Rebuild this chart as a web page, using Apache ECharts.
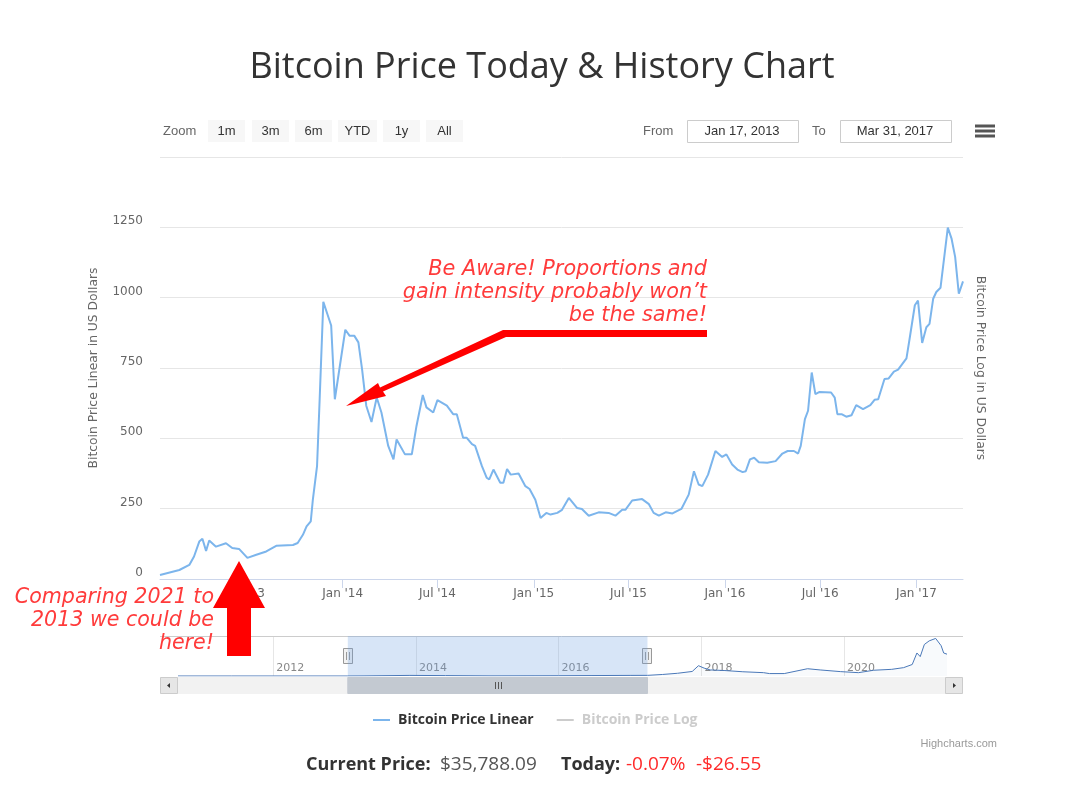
<!DOCTYPE html>
<html>
<head>
<meta charset="utf-8">
<title>Bitcoin Price Today & History Chart</title>
<script src="https://cdn.jsdelivr.net/npm/echarts@6/dist/echarts.min.js"></script>
<style>
  html, body { margin: 0; padding: 0; background: #fff; }
  #chart { width: 1079px; height: 790px; }
</style>
</head>
<body>
<div id="chart"></div>
<script>
// weekly-ish closes (USD)
var priceDates = [
  '2013-01-17','2013-02-23','2013-03-14','2013-03-23','2013-04-02','2013-04-08','2013-04-15','2013-04-21',
  '2013-05-04','2013-05-23','2013-06-04','2013-06-17','2013-07-03','2013-07-20','2013-08-08','2013-08-27',
  '2013-09-28','2013-10-07','2013-10-17','2013-10-24','2013-11-01','2013-11-05','2013-11-13','2013-11-18',
  '2013-11-25','2013-12-03','2013-12-10','2013-12-17','2014-01-06','2014-01-14','2014-01-23','2014-01-31',
  '2014-02-07','2014-02-15','2014-02-25','2014-03-07','2014-03-16','2014-03-29','2014-04-08','2014-04-14',
  '2014-04-30','2014-05-13','2014-05-22','2014-06-03','2014-06-10','2014-06-23','2014-07-01','2014-07-19',
  '2014-07-31','2014-08-07','2014-08-19','2014-08-26','2014-09-05','2014-09-11','2014-09-24','2014-10-03',
  '2014-10-08','2014-10-16','2014-10-29','2014-11-04','2014-11-11','2014-11-18','2014-12-03','2014-12-16',
  '2014-12-24','2015-01-04','2015-01-14','2015-01-25','2015-02-02','2015-02-15','2015-02-24','2015-03-09',
  '2015-03-25','2015-04-03','2015-04-16','2015-05-05','2015-05-24','2015-06-06','2015-06-19','2015-06-25',
  '2015-07-08','2015-07-27','2015-08-09','2015-08-18','2015-08-28','2015-09-10','2015-09-23','2015-10-10',
  '2015-10-24','2015-11-03','2015-11-12','2015-11-19','2015-11-30','2015-12-14','2015-12-27','2016-01-04',
  '2016-01-15','2016-01-25','2016-02-04','2016-02-10','2016-02-18','2016-02-26','2016-03-06','2016-03-22',
  '2016-04-07','2016-04-20','2016-04-30','2016-05-12','2016-05-20','2016-05-25','2016-06-02','2016-06-08',
  '2016-06-15','2016-06-22','2016-06-30','2016-07-22','2016-07-29','2016-08-03','2016-08-11','2016-08-20',
  '2016-08-30','2016-09-08','2016-09-21','2016-10-05','2016-10-13','2016-10-20','2016-11-01','2016-11-09',
  '2016-11-19','2016-11-27','2016-12-13','2016-12-19','2016-12-29','2017-01-04','2017-01-12','2017-01-20',
  '2017-01-26','2017-02-02','2017-02-08','2017-02-16','2017-03-02','2017-03-09','2017-03-16','2017-03-23',
  '2017-03-31'
];
var priceValues = [
  14, 32, 50, 80, 133, 143, 100, 137,
  115, 127, 110, 107, 75, 86, 98, 118,
  121, 128, 157, 187, 205, 282, 401, 639,
  985, 940, 901, 639, 886, 865, 865, 841,
  746, 616, 558, 645, 592, 473, 425, 496,
  443, 443, 544, 654, 610, 592, 636, 616,
  586, 586, 502, 502, 479, 473, 401, 360,
  354, 389, 342, 342, 391, 371, 375, 330,
  320, 282, 217, 235, 229, 235, 246, 288,
  252, 249, 225, 237, 235, 225, 246, 246,
  279, 284, 266, 235, 225, 237, 233, 249,
  300, 383, 336, 330, 371, 455, 434, 443,
  407, 389, 380, 383, 425, 431, 415, 413,
  419, 446, 455, 455, 446, 473, 568, 598,
  734, 657, 665, 663, 645, 586, 586, 577,
  582, 618, 604, 618, 637, 639, 711, 713,
  737, 744, 784, 854, 973, 990, 839, 895,
  907, 996, 1020, 1035, 1249, 1211, 1145, 1014,
  1058
];

// long history shown in the navigator (USD)
var navDates = [
  '2010-09-01','2011-06-01','2012-01-01','2013-01-17','2013-04-10','2013-12-01','2014-06-01','2015-01-15',
  '2016-01-01','2016-06-15','2017-01-01','2017-03-31','2017-06-15','2017-09-01','2017-11-15','2017-12-17',
  '2018-01-15','2018-02-15','2018-05-01','2018-08-01','2018-11-15','2018-12-15','2019-03-01','2019-06-28',
  '2019-09-01','2019-12-15','2020-03-15','2020-06-01','2020-09-01','2020-11-01','2020-12-15','2021-01-08',
  '2021-01-25','2021-02-15','2021-03-12','2021-04-14','2021-05-12','2021-05-25','2021-06-11'
];
var navValues = [
  0.06, 10, 6, 15, 140, 1000, 650, 200,
  430, 700, 1000, 1060, 2500, 4500, 7500, 17000,
  13000, 10000, 9000, 7000, 5500, 4000, 4000, 12000,
  10000, 7200, 5500, 9500, 11000, 13800, 19000, 38000,
  32000, 52000, 58000, 62000, 50000, 38000, 36000
];

var mainTickDates = ['2013-07-01','2014-01-01','2014-07-01','2015-01-01','2015-07-01','2016-01-01','2016-07-01','2017-01-01'];
var navTickDates = ['2012-01-01','2014-01-01','2016-01-01','2018-01-01','2020-01-01'];
var rangeFrom = '2013-01-17';
var rangeTo = '2017-03-31';
var zoomButtons = ['1m', '3m', '6m', 'YTD', '1y', 'All'];

var months = ['Jan','Feb','Mar','Apr','May','Jun','Jul','Aug','Sep','Oct','Nov','Dec'];
function toTime(s) { return new Date(s + 'T00:00:00').getTime(); }
function pair(ds, vs) { return ds.map(function (d, i) { return [toTime(d), vs[i]]; }); }

var chart = echarts.init(document.getElementById('chart'));
var labelFont = 'DejaVu Sans';
var btnFont = '13px "Liberation Sans Narrow", "Liberation Sans"';
var red = '#ff3b3b';

chart.setOption({
  backgroundColor: '#fff',
  animation: false,
  title: {
    text: 'Bitcoin Price Today & History Chart',
    left: 537, top: 45, textAlign: 'center',
    textStyle: { fontFamily: 'Open Sans', fontWeight: 'normal', fontSize: 36, color: '#333' }
  },
  legend: {
    left: 368, top: 708, itemGap: 23,
    icon: 'rect', itemWidth: 17, itemHeight: 2,
    inactiveColor: '#cccccc',
    textStyle: { fontFamily: 'Open Sans', fontWeight: 'bold', fontSize: 14, color: '#333', padding: [0, 0, 0, 3] },
    data: ['Bitcoin Price Linear', 'Bitcoin Price Log'],
    selected: { 'Bitcoin Price Linear': true, 'Bitcoin Price Log': false }
  },
  grid: [
    { left: 160, right: 116, top: 157, height: 422 },
    { left: 178, right: 132, top: 636, height: 40 }
  ],
  xAxis: [{
    type: 'value', gridIndex: 0,
    min: toTime(rangeFrom), max: toTime(rangeTo),
    axisLine: { lineStyle: { color: '#ccd6eb' } },
    axisTick: { show: true, length: 9, lineStyle: { color: '#ccd6eb' }, customValues: mainTickDates.map(toTime) },
    axisLabel: {
      customValues: mainTickDates.map(toTime),
      margin: 9, color: '#666', fontFamily: labelFont, fontSize: 12,
      formatter: function (v) {
        var d = new Date(v);
        return months[d.getMonth()] + " '" + String(d.getFullYear()).slice(2);
      }
    },
    splitLine: { show: false }
  }, {
    type: 'value', gridIndex: 1,
    min: toTime(navDates[0]), max: toTime(navDates[navDates.length - 1]),
    axisLine: { show: false },
    axisTick: { show: false, customValues: navTickDates.map(toTime) },
    axisLabel: {
      customValues: navTickDates.map(toTime),
      inside: true, margin: 2, align: 'left', verticalAlign: 'bottom',
      padding: [0, 0, 0, 3], color: '#888', fontFamily: labelFont, fontSize: 11,
      formatter: function (v) { return String(new Date(v).getFullYear()); }
    },
    splitLine: { show: true, lineStyle: { color: '#e6e6e6' } }
  }],
  yAxis: [{
    type: 'value', gridIndex: 0,
    min: 0, max: 1500, interval: 250,
    name: 'Bitcoin Price Linear in US Dollars',
    nameLocation: 'middle', nameGap: 60,
    nameTextStyle: { color: '#666', fontFamily: labelFont, fontSize: 12.3 },
    axisLine: { show: false }, axisTick: { show: false },
    axisLabel: {
      margin: 17, color: '#666', fontFamily: labelFont, fontSize: 12, verticalAlign: 'bottom',
      formatter: function (v) { return v === 1500 ? '' : String(v); }
    },
    splitLine: { lineStyle: { color: '#e6e6e6' } }
  }, {
    type: 'log', gridIndex: 0, position: 'right',
    min: 1, max: 10000,
    name: 'Bitcoin Price Log in US Dollars',
    nameLocation: 'middle', nameGap: 11, nameRotate: -90,
    nameTextStyle: { color: '#666', fontFamily: labelFont, fontSize: 12.3 },
    axisLine: { show: false }, axisTick: { show: false },
    axisLabel: { show: false }, splitLine: { show: false }
  }, {
    type: 'value', gridIndex: 1, min: 0, max: 66000,
    show: false, splitLine: { show: false }
  }],
  series: [{
    name: 'Bitcoin Price Linear', type: 'line',
    xAxisIndex: 0, yAxisIndex: 0,
    data: pair(priceDates, priceValues),
    symbol: 'none', color: '#7cb5ec',
    lineStyle: { width: 2, color: '#7cb5ec' }
  }, {
    name: 'Bitcoin Price Log', type: 'line',
    xAxisIndex: 0, yAxisIndex: 1,
    data: pair(priceDates, priceValues),
    symbol: 'none', color: '#434348',
    lineStyle: { width: 2 }
  }, {
    name: 'navigator', type: 'line',
    xAxisIndex: 1, yAxisIndex: 2,
    data: pair(navDates, navValues),
    symbol: 'none',
    lineStyle: { width: 1, color: '#4a78b8' },
    areaStyle: { color: 'rgba(69,114,167,0.05)' },
    markArea: {
      silent: true,
      itemStyle: { color: 'rgba(110,160,225,0.28)' },
      data: [[{ xAxis: toTime(rangeFrom) }, { xAxis: toTime(rangeTo) }]]
    }
  }]
});

// pixel spots of the selected range on the navigator axis
var selX0 = chart.convertToPixel({ xAxisIndex: 1 }, toTime(rangeFrom));
var selX1 = chart.convertToPixel({ xAxisIndex: 1 }, toTime(rangeTo));

var g = [];
// range selector: zoom buttons
g.push({ type: 'text', x: 163, y: 131, style: { text: 'Zoom', verticalAlign: 'middle', font: btnFont, fill: '#666' } });
var bx = [208, 252, 295, 338, 383, 426];
var bw = [37, 37, 37, 39, 37, 37];
zoomButtons.forEach(function (t, i) {
  g.push({ type: 'rect', shape: { x: bx[i], y: 120, width: bw[i], height: 22 }, style: { fill: '#f7f7f7' } });
  g.push({ type: 'text', x: bx[i] + bw[i] / 2, y: 131, style: { text: t, align: 'center', verticalAlign: 'middle', font: btnFont, fill: '#333' } });
});
g.push({ type: 'text', x: 643, y: 131, style: { text: 'From', verticalAlign: 'middle', font: btnFont, fill: '#666' } });
g.push({ type: 'rect', shape: { x: 687.5, y: 120.5, width: 111, height: 22 }, style: { fill: '#fff', stroke: '#cccccc', lineWidth: 1 } });
g.push({ type: 'text', x: 742, y: 131, style: { text: 'Jan 17, 2013', align: 'center', verticalAlign: 'middle', font: btnFont, fill: '#333' } });
g.push({ type: 'text', x: 812, y: 131, style: { text: 'To', verticalAlign: 'middle', font: btnFont, fill: '#666' } });
g.push({ type: 'rect', shape: { x: 840.5, y: 120.5, width: 111, height: 22 }, style: { fill: '#fff', stroke: '#cccccc', lineWidth: 1 } });
g.push({ type: 'text', x: 895, y: 131, style: { text: 'Mar 31, 2017', align: 'center', verticalAlign: 'middle', font: btnFont, fill: '#333' } });
// export menu icon
[126, 131, 136].forEach(function (y) {
  g.push({ type: 'line', shape: { x1: 975, y1: y, x2: 995, y2: y }, style: { stroke: '#555', lineWidth: 3 } });
});

// navigator outline, handles and scrollbar
g.push({ type: 'line', shape: { x1: 160, y1: 636.5, x2: 963, y2: 636.5 }, style: { stroke: '#cccccc', lineWidth: 1 } });
g.push({ type: 'rect', shape: { x: 160.5, y: 677.5, width: 802, height: 16 }, style: { fill: '#f2f2f2', stroke: '#f2f2f2' } });
g.push({ type: 'rect', shape: { x: selX0, y: 677.5, width: selX1 - selX0, height: 16 }, style: { fill: '#c3c9d1', stroke: '#c3c9d1' } });
[-3, 0, 3].forEach(function (dx) {
  var cx = Math.round((selX0 + selX1) / 2) + dx + 0.5;
  g.push({ type: 'line', shape: { x1: cx, y1: 682, x2: cx, y2: 689 }, style: { stroke: '#555', lineWidth: 1 } });
});
g.push({ type: 'rect', shape: { x: 160.5, y: 677.5, width: 17, height: 16 }, style: { fill: '#e6e6e6', stroke: '#cccccc' } });
g.push({ type: 'polygon', shape: { points: [[167, 685.5], [170, 683], [170, 688]] }, style: { fill: '#333' } });
g.push({ type: 'rect', shape: { x: 945.5, y: 677.5, width: 17, height: 16 }, style: { fill: '#e6e6e6', stroke: '#cccccc' } });
g.push({ type: 'polygon', shape: { points: [[956, 685.5], [953, 683], [953, 688]] }, style: { fill: '#333' } });
[selX0, selX1].forEach(function (hx) {
  var x = Math.round(hx);
  g.push({ type: 'rect', shape: { x: x - 4.5, y: 648.5, width: 9, height: 15 }, style: { fill: '#f2f2f2', stroke: '#999' } });
  g.push({ type: 'line', shape: { x1: x - 1.5, y1: 652, x2: x - 1.5, y2: 660 }, style: { stroke: '#999', lineWidth: 1 } });
  g.push({ type: 'line', shape: { x1: x + 1.5, y1: 652, x2: x + 1.5, y2: 660 }, style: { stroke: '#999', lineWidth: 1 } });
});

// credits and price line
g.push({ type: 'text', x: 997, y: 744, style: { text: 'Highcharts.com', align: 'right', verticalAlign: 'middle', font: '11px "Liberation Sans"', fill: '#999' } });
var priceFont = '19px "Open Sans"';
var priceBold = 'bold 18px "Open Sans"';
[
  { x: 306, t: 'Current Price:', f: priceBold, c: '#333' },
  { x: 440, t: '$35,788.09', f: priceFont, c: '#555' },
  { x: 561, t: 'Today:', f: priceBold, c: '#333' },
  { x: 626, t: '-0.07%', f: priceFont, c: '#ff2a2a' },
  { x: 696, t: '-$26.55', f: priceFont, c: '#ff2a2a' }
].forEach(function (p) {
  g.push({ type: 'text', x: p.x, y: 765, style: { text: p.t, verticalAlign: 'middle', font: p.f, fill: p.c } });
});

// red annotations drawn over the chart
g.push({
  type: 'polygon', z: 100,
  shape: { points: [[239, 561], [265, 608], [251, 608], [251, 656], [227, 656], [227, 608], [213, 608]] },
  style: { fill: '#ff0000' }
});
g.push({
  type: 'text', z: 100, x: 214, y: 586,
  style: { text: 'Comparing 2021 to\n2013 we could be\nhere!', align: 'right', verticalAlign: 'top', font: 'italic 200 20.6px "DejaVu Sans"', lineHeight: 23, fill: red }
});
g.push({
  type: 'polygon', z: 100,
  shape: { points: [[707, 330], [503, 330], [380, 387.5], [378, 383], [346, 406], [386, 396], [383, 391.5], [506, 337], [707, 337]] },
  style: { fill: '#ff0000' }
});
g.push({
  type: 'text', z: 100, x: 707, y: 258,
  style: { text: 'Be Aware! Proportions and\ngain intensity probably won\u2019t\nbe the same!', align: 'right', verticalAlign: 'top', font: 'italic 200 20.8px "DejaVu Sans"', lineHeight: 23, fill: red }
});

chart.setOption({ graphic: g });
</script>
</body>
</html>
